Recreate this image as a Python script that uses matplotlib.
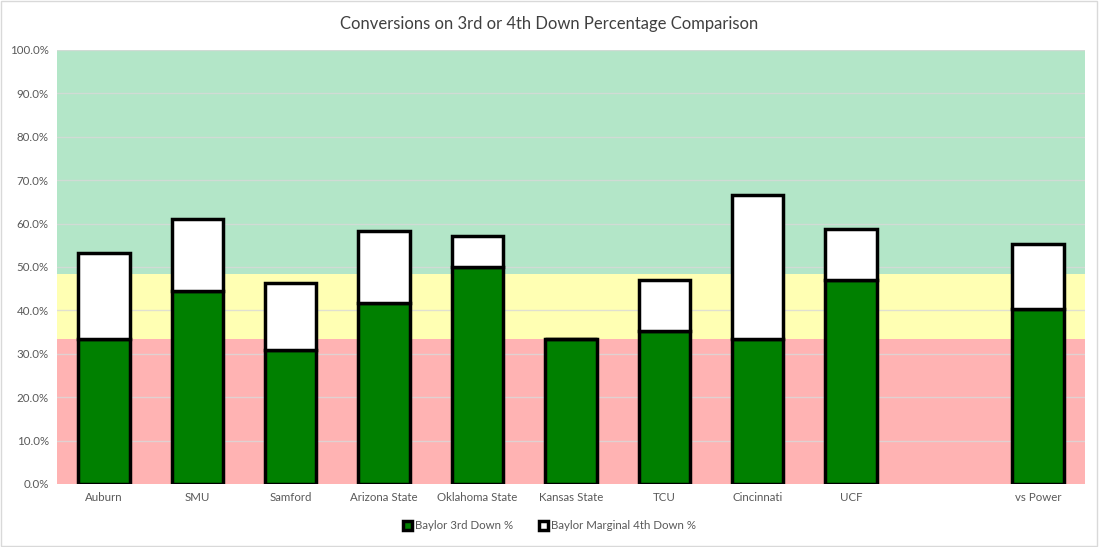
import numpy as np
import matplotlib
matplotlib.use('Agg')
import matplotlib.pyplot as plt
from matplotlib.ticker import PercentFormatter

plt.rcParams['font.family'] = ['Lato', 'DejaVu Sans']

teams = ['Auburn', 'SMU', 'Samford', 'Arizona State', 'Oklahoma State', 'Kansas State',
         'TCU', 'Cincinnati', 'UCF', '', 'vs Power']
third_down = [33.3, 44.4, 30.8, 41.7, 50.0, 33.3, 35.3, 33.3, 47.1, np.nan, 40.4]
marginal_fourth = [20.0, 16.7, 15.4, 16.6, 7.1, 0.0, 11.8, 33.4, 11.7, np.nan, 14.8]

# background bands (lower, upper)
bands = [(0, 33.4, '#ffb3b3'), (33.4, 48.5, '#ffffb3'), (48.5, 100, '#b3e6c8')]

fig = plt.figure(figsize=(10.99, 5.47), dpi=100)
ax = fig.add_axes([0.052, 0.1152, 0.935, 0.7934])

for lo, hi, c in bands:
    ax.axhspan(lo, hi, color=c, zorder=0, lw=0)

x = np.arange(len(teams))
ax.set_xlim(-0.5, len(teams) - 0.5)
ax.set_ylim(0, 100)

for y in range(10, 101, 10):
    ax.axhline(y, color='#d9d9d9', lw=1, zorder=1, alpha=0.8)

w = 0.55
ax.bar(x, third_down, w, color='#008000', edgecolor='black', lw=2.5, zorder=3,
       label='Baylor 3rd Down %')
ax.bar(x, marginal_fourth, w, bottom=third_down, color='white', edgecolor='black', lw=2.5,
       zorder=3, label='Baylor Marginal 4th Down %')

ax.set_xticks(x)
ax.set_xticklabels(teams)
ax.set_yticks(range(0, 101, 10))
ax.yaxis.set_major_formatter(PercentFormatter(decimals=1))
ax.tick_params(axis='both', length=0, labelsize=8.3, labelcolor='#595959')
ax.tick_params(axis='y', pad=6)
ax.tick_params(axis='x', pad=6)
for s in ax.spines.values():
    s.set_visible(False)

fig.suptitle('Conversions on 3rd or 4th Down Percentage Comparison', y=0.97,
             fontsize=12, color='#404040')

leg = fig.legend(loc='lower center', bbox_to_anchor=(0.5, 0.01), ncol=2, frameon=False,
                 fontsize=8.3, handlelength=0.8, handleheight=0.8, columnspacing=2.2,
                 handletextpad=0.3)
for t in leg.get_texts():
    t.set_color('#595959')

fig.patches.append(plt.Rectangle((0.001, 0.002), 0.997, 0.996, transform=fig.transFigure,
                                 fill=False, edgecolor='#d9d9d9', lw=1))

fig.savefig('out.png', dpi=100)
